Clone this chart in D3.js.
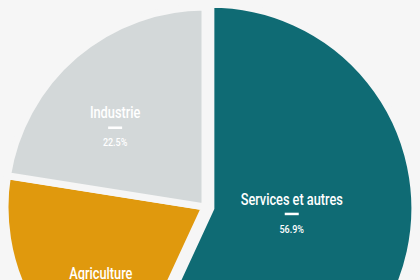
<!DOCTYPE html>
<html>
  <head>
    <meta charset="utf-8">
    <title>Répartition par secteur</title>
    <script src="https://d3js.org/d3.v7.min.js"></script>
    <style>
      html, body { margin: 0; padding: 0; background: #f6f6f6; }
      svg { display: block; }
      text { font-family: "Roboto", "Liberation Sans", sans-serif; font-weight: 500; fill: #ffffff; }
    </style>
  </head>
  <body>
    <svg id="canvas" width="420" height="280"></svg>

    <script>
      // données
      var categories = ["Services et autres", "Agriculture", "Industrie"];
      var values = [56.9, 20.6, 22.5];
      var valueLabels = ["56.9%", "20.6%", "22.5%"];
      var colors = ["#0f6b74", "#e0990d", "#d3d8d9"];

      // mise en page
      var cx = 205, cy = 207;
      var radius = 200;
      var highlight = "Services et autres";
      // décalage angulaire (degrés) et rayon de chaque étiquette
      var labelPos = {
        "Services et autres": { shift: -8, r: 87 },
        "Agriculture": { shift: -9.8, r: 132 },
        "Industrie": { shift: -8, r: 120 }
      };

      var svg = d3.select("#canvas");
      var g = svg.append("g").attr("transform", "translate(" + cx + "," + cy + ")");

      var pie = d3.pie().sort(null).value(function(d){ return d; });
      var arcs = pie(values);

      var arc = d3.arc()
        .innerRadius(0)
        .outerRadius(function(d){ return categories[d.index] == highlight ? radius + 4 : radius; });

      g.selectAll("path")
        .data(arcs)
        .enter()
        .append("path")
        .attr("d", arc)
        .attr("transform", function(d){
          if (categories[d.index] != highlight) return null;
          var p = d3.pointRadial((d.startAngle + d.endAngle) / 2, 6);
          return "translate(" + p[0] + "," + p[1] + ")";
        })
        .style("fill", function(d){ return colors[d.index]; })
        .style("stroke", "#f6f6f6")
        .style("stroke-width", 7)
        .style("stroke-linejoin", "miter");

      var labels = g.selectAll("g.label")
        .data(arcs)
        .enter()
        .append("g")
        .attr("class", "label")
        .attr("transform", function(d){
          var lp = labelPos[categories[d.index]];
          var a = (d.startAngle + d.endAngle) / 2 + lp.shift * Math.PI / 180;
          var p = d3.pointRadial(a, lp.r);
          return "translate(" + p[0] + "," + p[1] + ")";
        });

      labels.append("text")
        .attr("y", -9)
        .attr("transform", function(d){ return categories[d.index] == highlight ? "scale(0.75,1)" : "scale(0.8,1)"; })
        .style("text-anchor", "middle")
        .style("font-size", function(d){ return categories[d.index] == highlight ? "17px" : "16px"; })
        .text(function(d){ return categories[d.index]; });

      labels.append("rect")
        .attr("x", -7)
        .attr("y", -1)
        .attr("width", 14)
        .attr("height", 2.5)
        .style("fill", "#ffffff");

      labels.append("text")
        .attr("y", 19)
        .attr("transform", "scale(0.82,1)")
        .style("text-anchor", "middle")
        .style("font-size", "11px")
        .text(function(d){ return valueLabels[d.index]; });
    </script>
  </body>
</html>
